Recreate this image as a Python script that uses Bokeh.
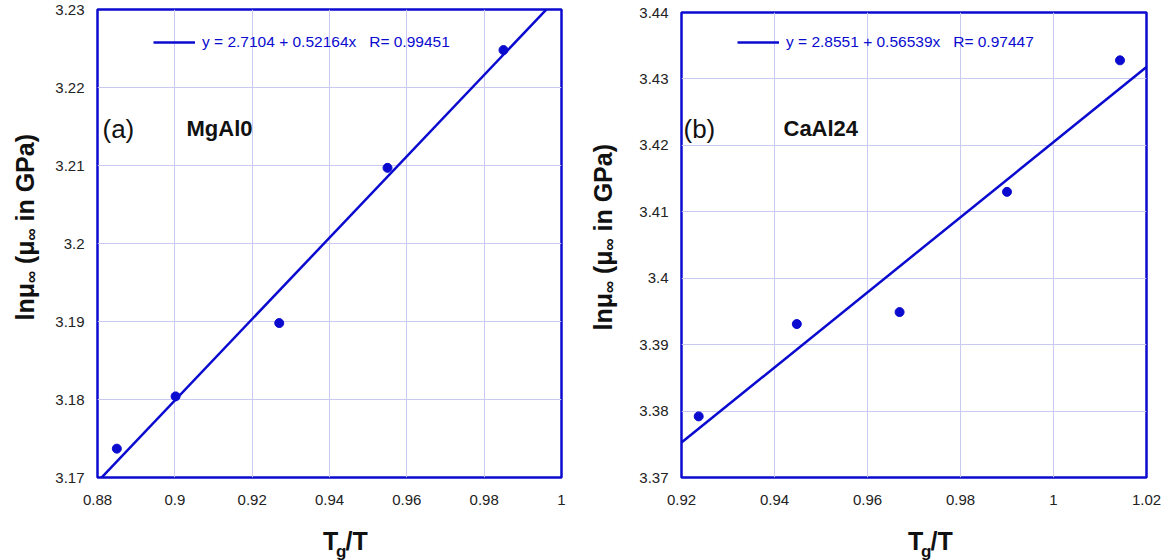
import math
from bokeh.plotting import figure
from bokeh.models import (Label, Legend, LegendItem, FixedTicker, Range1d,
                          CustomJSTickFormatter)
from bokeh.layouts import row, column
from bokeh.embed import file_html
from bokeh.resources import INLINE

# ---------------- data ----------------
# panel (a) MgAl0
a_x = [0.885, 0.9002, 0.927, 0.955, 0.985]
a_y = [3.1737, 3.1804, 3.1898, 3.2097, 3.2248]
a_intercept, a_slope, a_r = 2.7104, 0.52164, 0.99451
a_xticks = [0.88, 0.9, 0.92, 0.94, 0.96, 0.98, 1.0]
a_yticks = [3.17, 3.18, 3.19, 3.2, 3.21, 3.22, 3.23]

# panel (b) CaAl24
b_x = [0.9237, 0.9448, 0.9669, 0.9900, 1.0143]
b_y = [3.3792, 3.3931, 3.3949, 3.4130, 3.4328]
b_intercept, b_slope, b_r = 2.8551, 0.56539, 0.97447
b_xticks = [0.92, 0.94, 0.96, 0.98, 1.0, 1.02]
b_yticks = [3.37, 3.38, 3.39, 3.4, 3.41, 3.42, 3.43, 3.44]

BLUE = "#0b0bd0"
GRID = "#c9c9f2"
FONT = "Liberation Sans"
INK = "#111111"
NB = "\u00a0"

TOTAL_H = 560
MAIN_H = 512      # height of the plotting figures
FRAME_BOTTOM = 477
BIG, SMALL = 25, 17
SHIFT = 0.32      # empirical baseline correction (em)
TXT = dict(text_font=FONT, text_font_style="bold", text_color=INK,
           text_baseline="alphabetic", text_align="left")


def text_fig(w, h):
    f = figure(width=w, height=h, output_backend="svg", toolbar_location=None,
               x_range=Range1d(0, w), y_range=Range1d(0, h),
               x_axis_type=None, y_axis_type=None,
               min_border_left=0, min_border_right=0,
               min_border_top=0, min_border_bottom=0)
    f.outline_line_color = None
    f.background_fill_color = "white"
    f.border_fill_color = "white"
    return f


def ytitle_fig(w, base_x, start_y):
    f = text_fig(w, TOTAL_H)
    pieces = [("ln\u03bc", BIG, 0, 37.5),
              ("\u221e", SMALL, 4, 12.0 + 7.0),
              ("(\u03bc", BIG, 0, 23.5),
              ("\u221e", SMALL, 4, 12.0 + 7.0),
              ("in GPa)", BIG, 0, 0)]
    y = TOTAL_H - start_y
    for txt, fs, dx, adv in pieces:
        f.add_layout(Label(x=base_x + dx - SHIFT * fs, y=y, text=txt,
                           angle=math.pi / 2, text_font_size=f"{fs}px", **TXT))
        y += adv
    return f


def xtitle_fig(w, center_x):
    h = TOTAL_H - MAIN_H
    f = text_fig(w, h)
    tb = TOTAL_H - 548 + SHIFT * BIG     # baseline of T (from bottom)
    gb = TOTAL_H - 556 + SHIFT * SMALL
    f.add_layout(Label(x=center_x - 24, y=tb, text="T",
                       text_font_size=f"{BIG}px", **TXT))
    f.add_layout(Label(x=center_x - 9, y=gb, text="g",
                       text_font_size=f"{SMALL}px", **TXT))
    f.add_layout(Label(x=center_x + 2, y=tb, text="/T",
                       text_font_size=f"{BIG}px", **TXT))
    return f


def panel(xs, ys, icpt, slope, r, xticks, yticks, tag, name,
          width, bleft, bright, btop, tag_dx, name_dx, label_up):
    bbottom = MAIN_H - FRAME_BOTTOM
    p = figure(width=width, height=MAIN_H, output_backend="svg",
               toolbar_location=None,
               x_range=Range1d(xticks[0], xticks[-1]),
               y_range=Range1d(yticks[0], yticks[-1]),
               min_border_left=bleft, min_border_right=bright,
               min_border_top=btop, min_border_bottom=bbottom)
    p.background_fill_color = "white"
    p.border_fill_color = "white"
    p.outline_line_color = BLUE
    p.outline_line_width = 2.5

    fmt = CustomJSTickFormatter(code="return (Math.round(tick*10000)/10000).toString()")
    p.xaxis.ticker = FixedTicker(ticks=xticks)
    p.yaxis.ticker = FixedTicker(ticks=yticks)
    for ax in (p.xaxis[0], p.yaxis[0]):
        ax.formatter = fmt
        ax.axis_line_color = None
        ax.major_tick_line_color = None
        ax.minor_tick_line_color = None
        ax.major_tick_out = 0
        ax.major_label_text_font = FONT
        ax.major_label_text_font_size = "15px"
        ax.major_label_text_color = "#222222"
    p.xaxis.major_label_standoff = 17
    p.yaxis.major_label_standoff = 13
    p.grid.grid_line_color = GRID
    p.grid.grid_line_width = 1

    # fit line (from the regression coefficients)
    fx = [xticks[0], xticks[-1]]
    fy = [icpt + slope * v for v in fx]
    r_fit = p.line(fx, fy, line_color=BLUE, line_width=2.5)
    p.scatter(xs, ys, size=9, color=BLUE)

    eq = f"y = {icpt} + {slope}x{NB}{NB}{NB}R= {r}"
    leg = Legend(items=[LegendItem(label=eq, renderers=[r_fit])],
                 location=(56, 425), glyph_width=42, glyph_height=20,
                 label_height=20, label_standoff=7, padding=0, margin=0,
                 border_line_color=None, background_fill_alpha=0,
                 label_text_font=FONT, label_text_font_size="15.5px",
                 label_text_color=BLUE)
    p.add_layout(leg)

    x0, y0 = xticks[0], yticks[0]
    p.add_layout(Label(x=x0, y=y0, x_offset=tag_dx, y_offset=label_up, text=tag,
                       text_font=FONT, text_font_size="26px", text_color=INK,
                       text_baseline="middle", text_align="left"))
    p.add_layout(Label(x=x0, y=y0, x_offset=name_dx, y_offset=label_up, text=name,
                       text_font=FONT, text_font_size="22px", text_font_style="bold",
                       text_color=INK, text_baseline="middle", text_align="left"))
    return p


# column widths (px)
YA_W, PA_W, YB_W, PB_W = 45, 535, 48, 537

pa = panel(a_x, a_y, a_intercept, a_slope, a_r, a_xticks, a_yticks,
           "(a)", "MgAl0", width=PA_W, bleft=52, bright=19, btop=9,
           tag_dx=5, name_dx=89, label_up=349)
pb = panel(b_x, b_y, b_intercept, b_slope, b_r, b_xticks, b_yticks,
           "(b)", "CaAl24", width=PB_W, bleft=53, bright=19, btop=12,
           tag_dx=2, name_dx=102, label_up=349)

ya = ytitle_fig(YA_W, base_x=32, start_y=320)
yb = ytitle_fig(YB_W, base_x=30, start_y=330)
xa = xtitle_fig(PA_W, center_x=52 + 464 / 2)
xb = xtitle_fig(PB_W, center_x=53 + 465 / 2)

layout = row(ya, column(pa, xa), yb, column(pb, xb))
open("out.html", "w").write(file_html(layout, INLINE))
